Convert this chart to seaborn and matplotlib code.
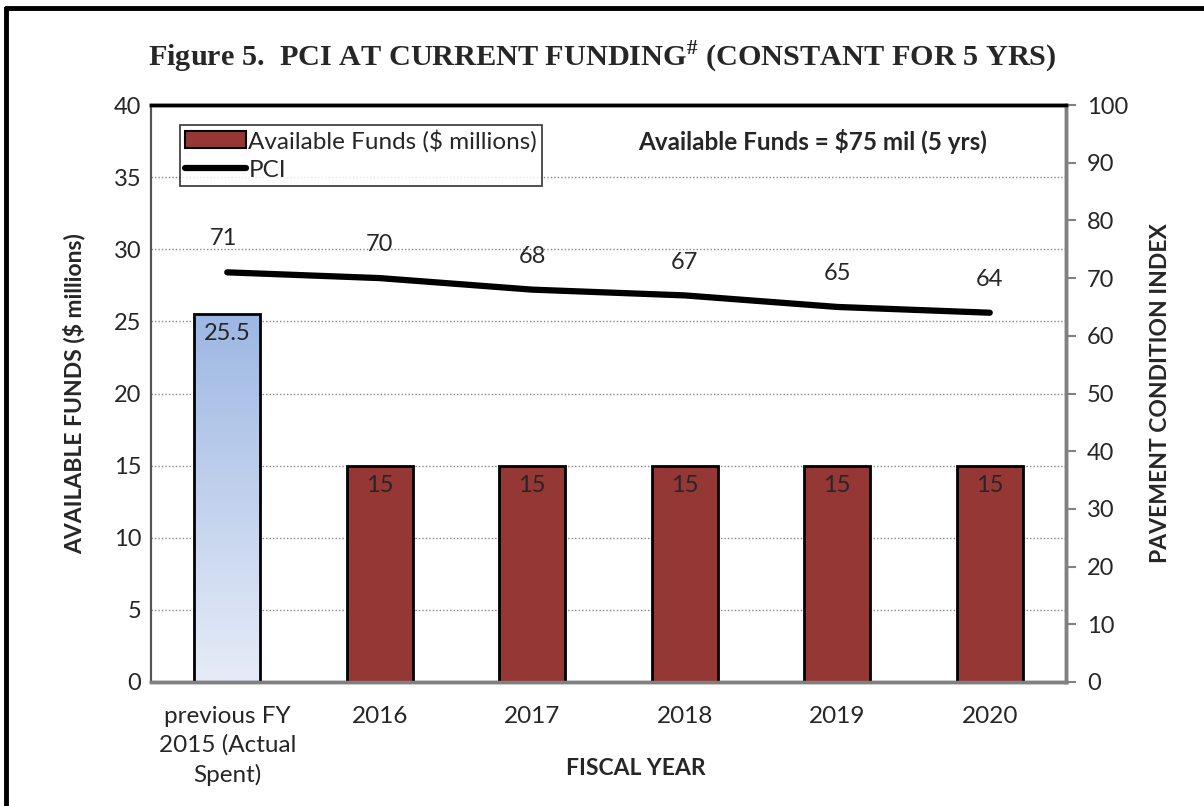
import numpy as np
import matplotlib
matplotlib.use("Agg")
import matplotlib.pyplot as plt
import seaborn as sns
from matplotlib.patches import Patch
from matplotlib.lines import Line2D
from matplotlib.colors import LinearSegmentedColormap

categories = ["previous FY\n2015 (Actual\nSpent)", "2016", "2017", "2018", "2019", "2020"]
funds = [25.5, 15, 15, 15, 15, 15]
fund_labels = ["25.5", "15", "15", "15", "15", "15"]
pci = [71, 70, 68, 67, 65, 64]
left_ticks = [0, 5, 10, 15, 20, 25, 30, 35, 40]
right_ticks = [0, 10, 20, 30, 40, 50, 60, 70, 80, 90, 100]

sns.set_theme(style="white")
plt.rcParams["font.family"] = ["Lato", "DejaVu Sans"]
plt.rcParams["mathtext.fontset"] = "custom"
plt.rcParams["mathtext.rm"] = "Liberation Serif:bold"
plt.rcParams["mathtext.bf"] = "Liberation Serif:bold"

fig = plt.figure(figsize=(12.04, 8.06), dpi=100)
ax = fig.add_axes([151/1204, 1 - 682/806, (1066-151)/1204, (682-105)/806])

maroon = "#953735"
sns.barplot(x=categories, y=funds, ax=ax, width=0.43, color=maroon,
            edgecolor="black", linewidth=2, zorder=3, saturation=1)
ax.set_xlim(-0.5, 5.5)
ax.set_ylim(0, 40)

# gradient fill for the first bar
bars = ax.patches
b0 = bars[0]
b0.set_facecolor("none")
x0, y0 = b0.get_x(), b0.get_y()
w, h = b0.get_width(), b0.get_height()
cmap = LinearSegmentedColormap.from_list("g", ["#e6ecf7", "#9db7e3"])
grad = np.linspace(0, 1, 256).reshape(-1, 1)
im = ax.imshow(grad, extent=[x0, x0 + w, y0, y0 + h], origin="lower",
               cmap=cmap, aspect="auto", zorder=2.5)
im.set_clip_path(b0)
ax.set_xlim(-0.5, 5.5)
ax.set_ylim(0, 40)

for b, lab in zip(bars, fund_labels):
    ax.annotate(lab, (b.get_x() + b.get_width()/2, b.get_height()),
                xytext=(0, -14), textcoords="offset points",
                ha="center", va="center", fontsize=17, zorder=5)

ax.set_yticks(left_ticks)
ax.yaxis.grid(True, linestyle=(0, (1, 1.5)), color="#888888", linewidth=1)
ax.set_axisbelow(True)
ax.tick_params(axis="y", labelsize=17, length=0, pad=7)
ax.tick_params(axis="x", labelsize=17.5, length=0, pad=17)
for t in ax.get_xticklabels():
    t.set_linespacing(1.45)
ax.set_xlabel("FISCAL YEAR", fontsize=16.5, fontweight="bold")
ax.set_ylabel("AVAILABLE FUNDS ($ millions)", fontsize=16.5, fontweight="bold", labelpad=20)
ax.xaxis.set_label_coords(0.53, -0.132)

ax2 = ax.twinx()
sns.lineplot(x=np.arange(len(pci)), y=pci, ax=ax2, color="black", linewidth=4.5,
             solid_capstyle="round", zorder=4)
ax2.set_ylim(0, 100)
ax2.set_xlim(-0.5, 5.5)
ax2.set_yticks(right_ticks)
ax2.tick_params(axis="y", labelsize=17, length=7, width=1.5, color="#808080", pad=8, right=True)
ax2.set_ylabel("PAVEMENT CONDITION INDEX", fontsize=16.5, fontweight="bold", labelpad=16)
for i, v in enumerate(pci):
    ax2.annotate(str(v), (i, v), xytext=(-3 if i == 0 else 0, 24), textcoords="offset points",
                 ha="center", va="center", fontsize=17)

for a in (ax, ax2):
    a.spines["top"].set_color("black")
    a.spines["top"].set_linewidth(2.5)
    a.spines["left"].set_color("#555555")
    a.spines["left"].set_linewidth(1.5)
    a.spines["left"].set_linestyle((0, (1, 1)))
    a.spines["right"].set_color("#808080")
    a.spines["right"].set_linewidth(2.5)
    a.spines["bottom"].set_color("#808080")
    a.spines["bottom"].set_linewidth(2.5)

handles = [Patch(facecolor=maroon, edgecolor="black", linewidth=1.5),
           Line2D([0], [0], color="black", linewidth=4.5, solid_capstyle="round")]
leg = ax2.legend(handles, ["Available Funds ($ millions)", "PCI"], loc="upper left",
                 bbox_to_anchor=(0.032, 0.966), fontsize=17.5, frameon=True, fancybox=False,
                 borderpad=0.2, labelspacing=0.3, handlelength=2.5, handletextpad=0.1,
                 borderaxespad=0)
leg.get_frame().set_edgecolor("black")
leg.get_frame().set_linewidth(1.2)

ax2.text(0.7235, 0.937, "Available Funds = \\$75 mil (5 yrs)", transform=ax2.transAxes,
         ha="center", va="center", fontsize=17.5, fontweight="bold")

fig.text(0.5, 1 - 57/806, "Figure 5.  PCI AT CURRENT FUNDING$^{\\#}$ (CONSTANT FOR 5 YRS)",
         ha="center", va="center", fontsize=21.8, fontweight="bold", family="Liberation Serif")

# outer frame
fig.add_artist(Line2D([6/1204, 6/1204], [0, 1 - 8/806], transform=fig.transFigure,
                      color="black", linewidth=3.5))
fig.add_artist(Line2D([6/1204, 1], [1 - 8/806, 1 - 8/806], transform=fig.transFigure,
                      color="black", linewidth=3.5))

fig.savefig("out.png", dpi=100)
